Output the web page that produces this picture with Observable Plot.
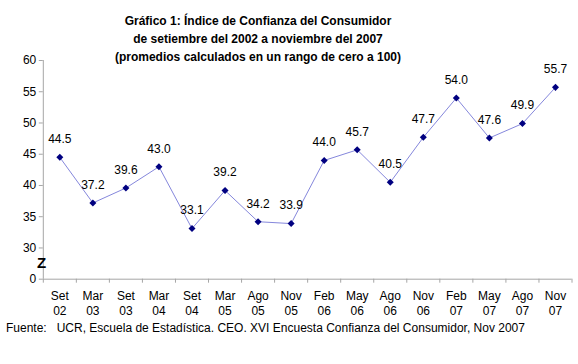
<!DOCTYPE html>
<html>
<head>
<meta charset="utf-8">
<script src="https://cdn.jsdelivr.net/npm/d3@7"></script>
<script src="https://cdn.jsdelivr.net/npm/@observablehq/plot@0.6"></script>
<style>
  html, body { margin: 0; padding: 0; background: #fff; }
  #wrap { position: relative; width: 578px; height: 364px; font-family: "Liberation Sans", Arial, sans-serif; }
  #chart { position: absolute; left: 0; top: 0; }
  #title { position: absolute; left: 58px; width: 400px; top: 12px; text-align: center; font-weight: bold; font-size: 12px; line-height: 18px; color: #000; }
  #zbreak { position: absolute; left: 37px; top: 255px; font-weight: bold; font-size: 15px; line-height: 16px; }
  #source { position: absolute; left: 6px; top: 321px; font-size: 12px; color: #000; white-space: pre; }
</style>
</head>
<body>
<div id="wrap">
  <div id="chart"></div>
  <div id="title">Gráfico 1: Índice de Confianza del Consumidor<br>de setiembre del 2002 a noviembre del 2007<br>(promedios calculados en un rango de cero a 100)</div>
  <div id="zbreak">Z</div>
  <div id="source">Fuente:   UCR, Escuela de Estadística. CEO. XVI Encuesta Confianza del Consumidor, Nov 2007</div>
</div>
<script>
const months = ["Set","Mar","Set","Mar","Set","Mar","Ago","Nov","Feb","May","Ago","Nov","Feb","May","Ago","Nov"];
const years  = ["02","03","03","04","04","05","05","05","06","06","06","06","07","07","07","07"];
const values = [44.5,37.2,39.6,43.0,33.1,39.2,34.2,33.9,44.0,45.7,40.5,47.7,54.0,47.6,49.9,55.7];
const yTicks = [25,30,35,40,45,50,55,60];
const yTickLabels = ["0","30","35","40","45","50","55","60"];

const data = values.map((v, i) => ({i, v, label: months[i] + "\n" + years[i]}));
const idx = data.map(d => d.i);
const bounds = d3.range(-0.5, values.length, 1);

const plot = Plot.plot({
  width: 578,
  height: 364,
  marginLeft: 42.8,
  marginRight: 6.5,
  marginTop: 60,
  marginBottom: 85.3,
  style: {fontFamily: "Liberation Sans, Arial, sans-serif", fontSize: "12px", color: "#000", background: "transparent"},
  x: {domain: [-0.5, values.length - 0.5]},
  y: {domain: [25, 60]},
  marks: [
    Plot.ruleX([-0.5], {stroke: "#a6a6a6", strokeWidth: 1}),
    Plot.ruleY([25], {stroke: "#a6a6a6", strokeWidth: 1}),
    Plot.axisY({ticks: yTicks, tickFormat: (d) => yTickLabels[yTicks.indexOf(d)], tickSize: 4, tickPadding: 3, stroke: "#a6a6a6", label: null, fontSize: 12}),
    Plot.axisX({ticks: bounds, tickFormat: () => "", tickSize: 4, stroke: "#a6a6a6", label: null}),
    Plot.axisX({ticks: idx, tickFormat: (i) => data[i].label, tickSize: 0, tickPadding: 10, label: null, fontSize: 12, lineHeight: 1.25}),
    Plot.line(data, {x: "i", y: "v", stroke: "#8587dc", strokeWidth: 1}),
    Plot.dot(data, {x: "i", y: "v", symbol: "square", rotate: 45, r: 2.8, fill: "#000080", stroke: "none"}),
    Plot.text(data, {x: "i", y: "v", text: (d) => d3.format(".1f")(d.v), dy: -18, fontSize: 12, fill: "#000"})
  ]
});
document.getElementById("chart").appendChild(plot);
</script>
</body>
</html>
